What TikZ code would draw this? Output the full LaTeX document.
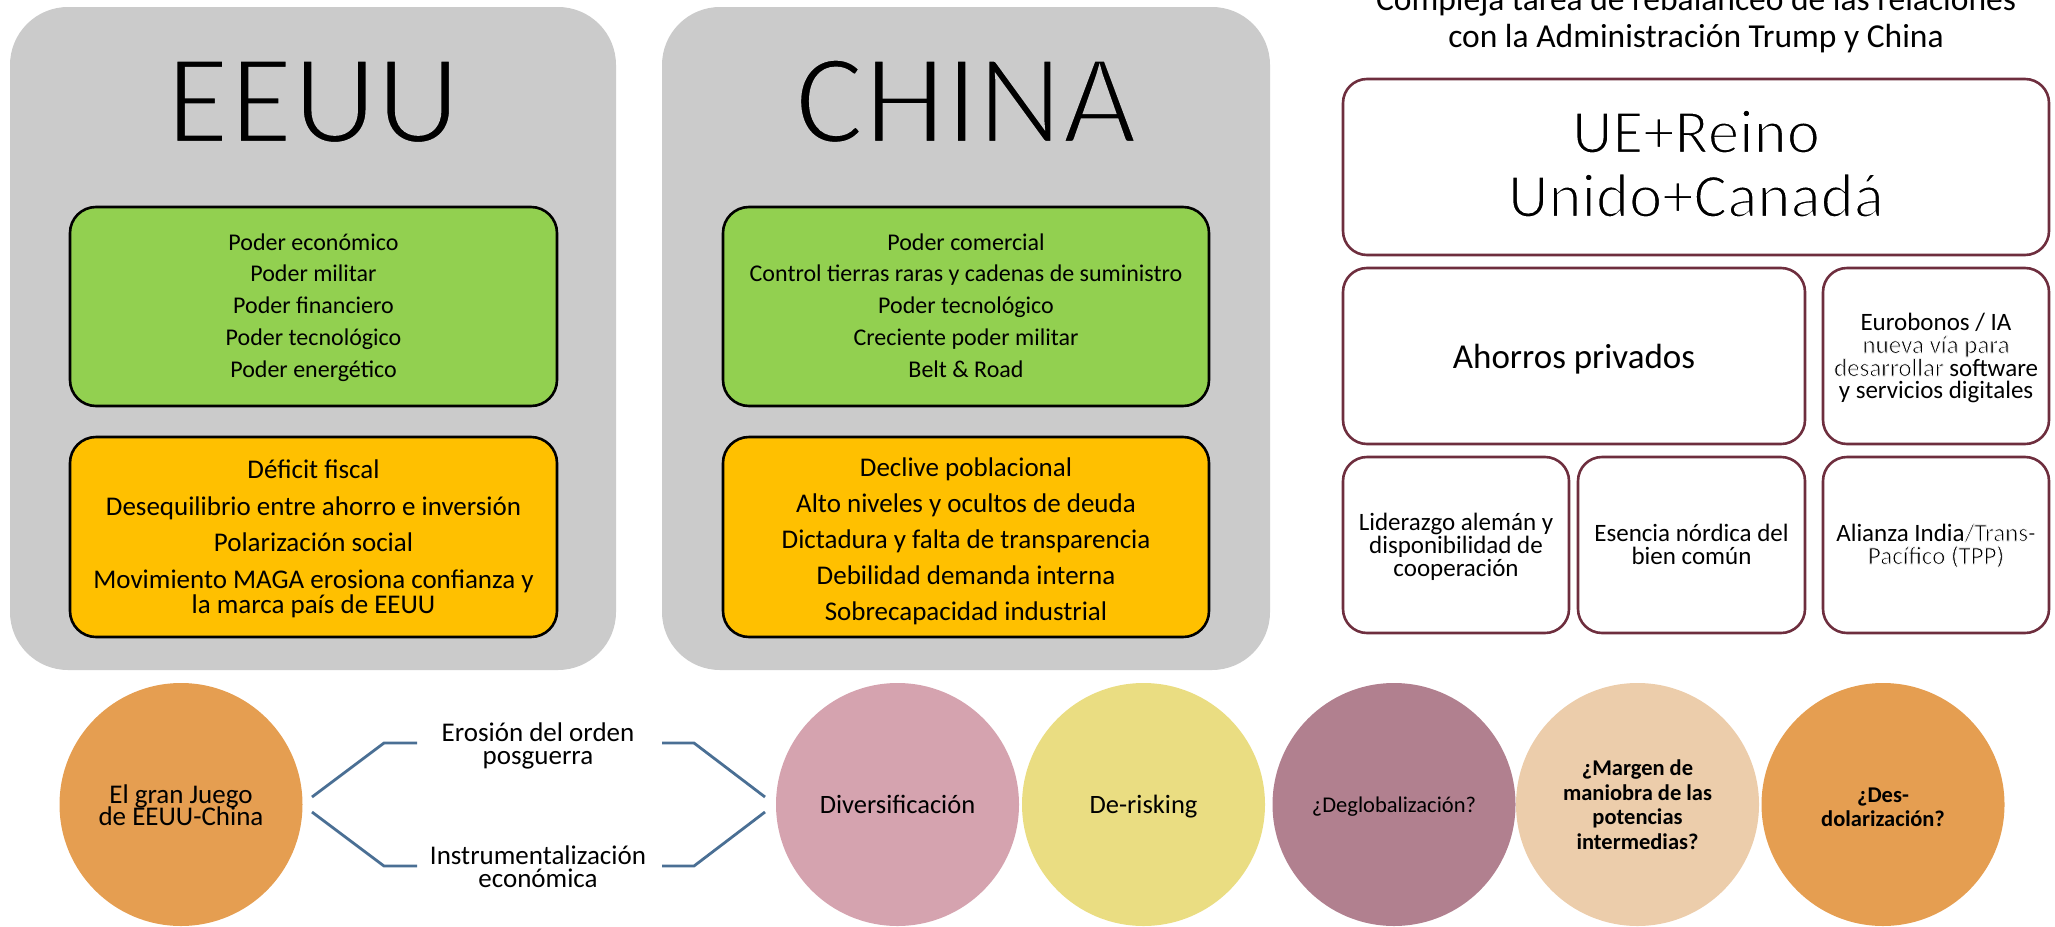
\documentclass[tikz,border=0pt]{standalone}
\usepackage{fontspec}
\setmainfont{Carlito}
\definecolor{panelgray}{HTML}{CBCBCB}
\definecolor{strgreen}{HTML}{92D050}
\definecolor{weakamber}{HTML}{FFC000}
\definecolor{maroon}{HTML}{6E2E3E}
\definecolor{steel}{HTML}{4A6F94}
\definecolor{cOrange}{HTML}{E59E51}
\definecolor{cPink}{HTML}{D5A3AF}
\definecolor{cYellow}{HTML}{EADD82}
\definecolor{cMauve}{HTML}{B1808F}
\definecolor{cPeach}{HTML}{ECCDAB}
% thinner strokes: outline the glyphs in the background grey/white
% (#1 = outline width, #2 = grey level of the background, #3 = text)
\newcommand{\thinink}[3]{\special{pdf:literal direct 2 Tr #1 w #2 G}#3\special{pdf:literal direct 0 Tr}}
\begin{document}
\begin{tikzpicture}[x=1pt,y=-1pt,
  fs/.style={font=\fontsize{#1}{#1}\selectfont},
  bfs/.style={font=\fontsize{#1}{#1}\selectfont\bfseries},
  txt/.style={inner sep=0pt, anchor=base, text=black},
  panel/.style={fill=panelgray, draw=none, rounded corners=58, inner sep=0pt},
  cardbox/.style={draw=black, line width=2.6pt, rounded corners=26, inner sep=0pt},
  eubox/.style={draw=maroon, line width=2.6pt, rounded corners=24, fill=white, inner sep=0pt},
  circ/.style={circle, draw=none, minimum size=243pt, inner sep=0pt},
  bracket/.style={draw=steel, line width=2.8pt}]
\useasboundingbox (0,0) rectangle (2055,926);

% ---- country panels ----
\node[panel, minimum width=606pt, minimum height=663pt] (usa) at (313,338.5) {};
\node[panel, minimum width=608pt, minimum height=663pt] (chn) at (966,338.5) {};
\node[txt, fs=130] (usaT) at (313,143) {\thinink{4}{0.796}{EEUU}};
\node[txt, fs=130] (chnT) at (966,143) {\thinink{4}{0.796}{CHINA}};

% strengths
\node[cardbox, fill=strgreen, minimum width=487pt, minimum height=199pt] (usStr) at (313.5,306.5) {};
\node[cardbox, fill=strgreen, minimum width=486pt, minimum height=199pt] (cnStr) at (966,306.5) {};
% weaknesses
\node[cardbox, fill=weakamber, minimum width=487pt, minimum height=200pt] (usWk) at (313.5,537) {};
\node[cardbox, fill=weakamber, minimum width=486pt, minimum height=200pt] (cnWk) at (966,537) {};

\foreach \t [count=\i] in {Poder económico, Poder militar, Poder financiero, Poder tecnológico, Poder energético}
  \node[txt, fs=24] (usS\i) at (313.5,{250+31.75*(\i-1)}) {\t};
\foreach \t [count=\i] in {Poder comercial, Control tierras raras y cadenas de suministro, Poder tecnológico, Creciente poder militar, Belt \& Road}
  \node[txt, fs=24] (cnS\i) at (966,{250+31.75*(\i-1)}) {\t};

\node[txt, fs=27] (usW1) at (313.5,478) {Déficit fiscal};
\node[txt, fs=27] (usW2) at (313.5,515) {Desequilibrio entre ahorro e inversión};
\node[txt, fs=27] (usW3) at (313.5,551) {Polarización social};
\node[txt, fs=27] (usW4) at (313.5,588) {Movimiento MAGA erosiona confianza y};
\node[txt, fs=27] (usW5) at (313.5,613) {la marca país de EEUU};

\foreach \t [count=\i] in {Declive poblacional, Alto niveles y ocultos de deuda, Dictadura y falta de transparencia, Debilidad demanda interna, Sobrecapacidad industrial}
  \node[txt, fs=27] (cnW\i) at (966,{476+36*(\i-1)}) {\t};

% ---- rebalancing block ----
\node[txt, fs=33.5] (ttl1) at (1696,10) {Compleja tarea de rebalanceo de las relaciones};
\node[txt, fs=33.5] (ttl2) at (1696,47) {con la Administración Trump y China};

\node[eubox, minimum width=706pt, minimum height=176pt] (eu) at (1696,167) {};
\node[txt, fs=63] (eu1) at (1696,153) {\thinink{2}{1}{UE+Reino}};
\node[txt, fs=63] (eu2) at (1696,217) {\thinink{2}{1}{Unido+Canadá}};

\node[eubox, minimum width=462pt, minimum height=176pt] (ahorro) at (1574,356) {};
\node[txt, fs=35] (ahorroT) at (1574,368) {Ahorros privados};

\node[eubox, minimum width=226pt, minimum height=176pt] (euro) at (1936,356) {};
\node[txt, fs=25] (euro1) at (1936,330) {Eurobonos / IA};
\node[txt, fs=25] (euro2) at (1936,353) {\thinink{0.7}{1}{nueva vía para}};
\node[txt, fs=25] (euro3) at (1936,376) {\thinink{0.7}{1}{desarrollar} software};
\node[txt, fs=25] (euro4) at (1936,398) {y servicios digitales};

\node[eubox, minimum width=226pt, minimum height=176pt] (lid) at (1456,545) {};
\node[txt, fs=25] (lid1) at (1456,530) {Liderazgo alemán y};
\node[txt, fs=25] (lid2) at (1456,553) {disponibilidad de};
\node[txt, fs=25] (lid3) at (1456,576) {cooperación};

\node[eubox, minimum width=227pt, minimum height=176pt] (nord) at (1691.5,545) {};
\node[txt, fs=25] (nord1) at (1691.5,541) {Esencia nórdica del};
\node[txt, fs=25] (nord2) at (1691.5,564) {bien común};

\node[eubox, minimum width=226pt, minimum height=176pt] (india) at (1936,545) {};
\node[txt, fs=25] (india1) at (1936,541) {Alianza India\thinink{0.7}{1}{/Trans-}};
\node[txt, fs=25] (india2) at (1936,564) {\thinink{0.7}{1}{Pacífico (TPP)}};

% ---- bottom sequence ----
\node[circ, fill=cOrange] (gran) at (181,804.5) {};
\node[txt, fs=27] (gran1) at (181,803) {El gran Juego};
\node[txt, fs=27] (gran2) at (181,825) {de EEUU-China};

\node[txt, fs=27] (ero1) at (538,741) {Erosión del orden};
\node[txt, fs=27] (ero2) at (538,764) {posguerra};
\node[txt, fs=27] (ins1) at (538,864) {Instrumentalización};
\node[txt, fs=27] (ins2) at (538,887) {económica};

\node[circ, fill=cPink] (div) at (897.5,804.5) {};
\node[txt, fs=26.5] (divT) at (897.5,813) {Diversificación};
\node[circ, fill=cYellow] (risk) at (1143.5,804.5) {};
\node[txt, fs=26.5] (riskT) at (1143.5,813) {De-risking};
\node[circ, fill=cMauve] (deglob) at (1394,804.5) {};
\node[txt, fs=22.5] (deglobT) at (1394,812) {¿Deglobalización?};
\node[circ, fill=cPeach] (margen) at (1637.5,804.5) {};
\node[txt, bfs=22.5] (marg1) at (1637.5,775) {¿Margen de};
\node[txt, bfs=22.5] (marg2) at (1637.5,800) {maniobra de las};
\node[txt, bfs=22.5] (marg3) at (1637.5,824) {potencias};
\node[txt, bfs=22.5] (marg4) at (1637.5,849) {intermedias?};
\node[circ, fill=cOrange] (desdol) at (1883,804.5) {};
\node[txt, bfs=22.5] (des1) at (1883,802) {¿Des-};
\node[txt, bfs=22.5] (des2) at (1883,826) {dolarización?};

% bracket connectors between the two circles
\coordinate (bUl) at (312,797);
\coordinate (bUk) at (384,743);
\coordinate (bUe) at (417,743);
\coordinate (bLl) at (312,812);
\coordinate (bLk) at (384,866);
\coordinate (bLe) at (417,866);
\coordinate (rUs) at (662,743);
\coordinate (rUk) at (694,743);
\coordinate (rUt) at (765,797);
\coordinate (rLs) at (662,866);
\coordinate (rLk) at (694,866);
\coordinate (rLt) at (765,812);
\draw[bracket] (bUl) -- (bUk) -- (bUe);
\draw[bracket] (bLl) -- (bLk) -- (bLe);
\draw[bracket] (rUs) -- (rUk) -- (rUt);
\draw[bracket] (rLs) -- (rLk) -- (rLt);
\end{tikzpicture}
\end{document}
